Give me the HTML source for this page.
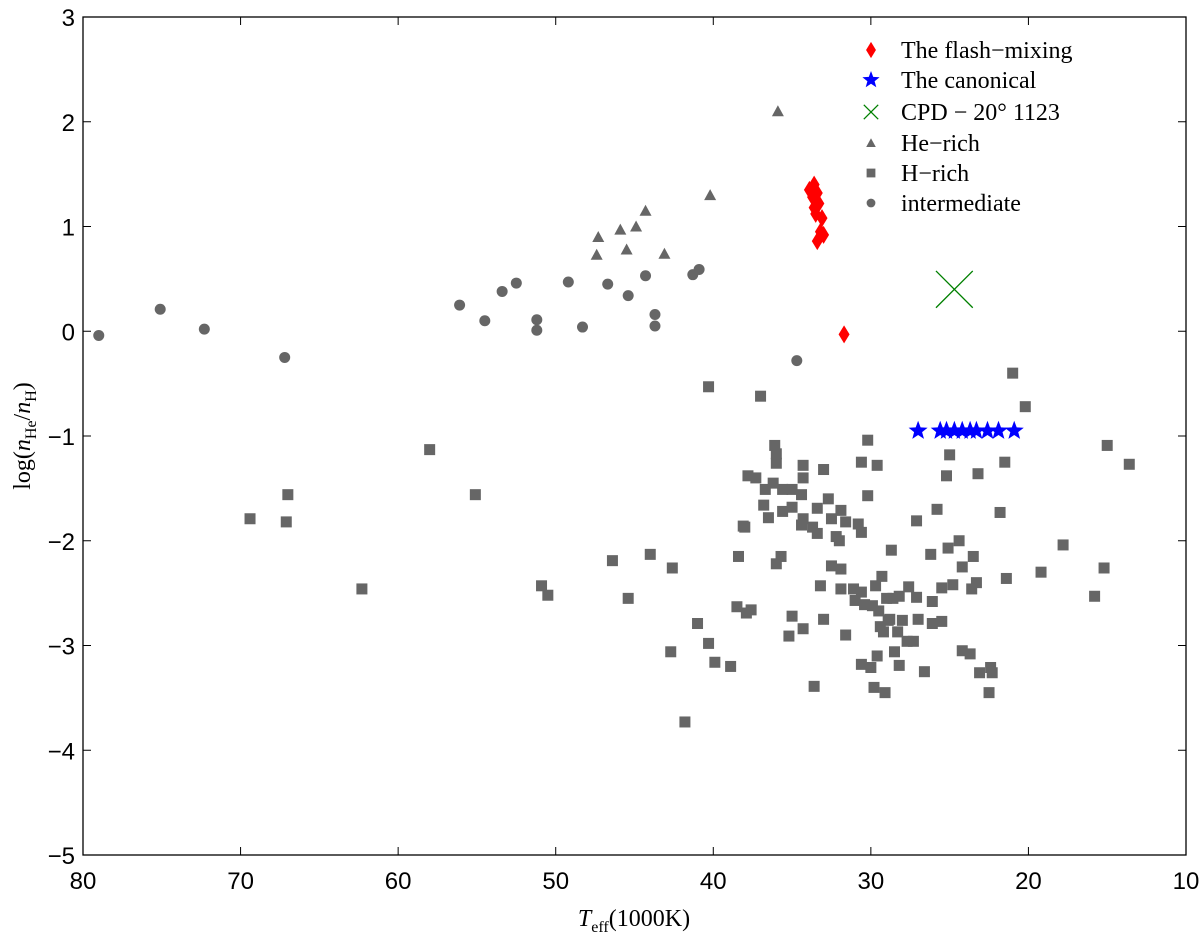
<!DOCTYPE html>
<html><head><meta charset="utf-8"><style>
html,body{margin:0;padding:0;background:#fff}
svg{display:block}
text{fill:#000}
.tick{font-family:"Liberation Sans",sans-serif;font-size:24px}
.ser{font-family:"Liberation Serif",serif}
</style></head><body>
<svg id="chart" width="1200" height="938" viewBox="0 0 1200 938" xmlns="http://www.w3.org/2000/svg">
<g id="marks"></g>
<rect x="83" y="17" width="1103" height="838" fill="none" stroke="#000" stroke-width="1.3"/>
<g id="axes"></g>
<text class="ser" x="634" y="926" font-size="24" text-anchor="middle"><tspan font-style="italic">T</tspan><tspan font-size="16" dy="6">eff</tspan><tspan dy="-6">(1000K)</tspan></text>
<text class="ser" transform="translate(30,436) rotate(-90)" font-size="24" text-anchor="middle">log(<tspan font-style="italic">n</tspan><tspan font-size="16" dy="6">He</tspan><tspan dy="-6">/</tspan><tspan font-style="italic">n</tspan><tspan font-size="16" dy="6">H</tspan><tspan dy="-6">)</tspan></text>
<g id="legend"></g>
</svg>
<script>
const xTicks=[80,70,60,50,40,30,20,10];
const yTicks=[3,2,1,0,-1,-2,-3,-4,-5];
const flashT=[33.9,33.6,33.7,33.4,33.6,33.3,33.5,33.1,33.2,33.0,33.4,31.7];
const flashY=[1.35,1.40,1.28,1.32,1.18,1.22,1.12,1.08,0.95,0.92,0.86,-0.03];
const canonT=[27.0,25.6,25.2,24.7,24.2,23.7,23.3,22.6,21.9,20.9];
const canonY=[-0.95,-0.95,-0.95,-0.95,-0.95,-0.95,-0.95,-0.95,-0.95,-0.95];
const cpdT=[24.7];
const cpdY=[0.40];
const heT=[35.9,40.2,44.3,44.9,45.9,47.3,45.5,47.4,43.1];
const heY=[2.10,1.30,1.15,1.00,0.97,0.90,0.78,0.73,0.74];
const hT=[69.4,67.0,67.1,62.3,58.0,55.1,50.9,50.5,46.4,45.4,44.0,42.6,42.7,41.8,41.0,40.3,40.3,39.9,38.9,38.5,38.4,38.1,37.9,37.6,37.0,30.2,36.1,36.0,36.0,34.3,33.0,30.6,29.6,37.8,37.3,34.3,36.2,36.7,35.6,35.0,34.4,30.2,32.7,36.8,33.4,35.6,35.0,31.9,36.5,34.3,32.5,31.6,34.4,33.7,30.8,33.4,30.6,32.2,32.0,38.0,28.7,35.7,36.0,32.5,31.9,29.3,33.2,31.9,31.1,30.6,29.7,29.0,28.6,31.0,30.4,29.9,29.5,35.0,33.0,34.3,35.2,31.6,28.9,29.4,29.2,29.6,30.6,30.0,33.6,29.8,29.1,21.0,20.2,25.0,21.5,25.2,23.2,15.0,13.6,25.8,21.8,27.1,24.4,26.2,25.1,23.5,24.2,17.8,19.2,15.2,15.8,21.4,23.3,23.6,24.8,25.5,26.1,27.6,28.2,27.1,27.0,26.1,25.5,28.8,28.0,28.3,27.7,27.3,24.2,23.7,28.5,28.2,26.6,22.4,23.1,22.3,22.5];
const hY=[-1.79,-1.56,-1.82,-2.46,-1.13,-1.56,-2.43,-2.52,-2.19,-2.55,-2.13,-2.26,-3.06,-3.73,-2.79,-0.53,-2.98,-3.16,-3.20,-2.63,-2.15,-1.86,-2.69,-2.66,-0.62,-1.04,-1.09,-1.17,-1.26,-1.28,-1.32,-1.25,-1.28,-1.38,-1.40,-1.40,-1.45,-1.51,-1.51,-1.51,-1.56,-1.57,-1.60,-1.66,-1.69,-1.72,-1.68,-1.71,-1.78,-1.79,-1.79,-1.82,-1.85,-1.87,-1.84,-1.93,-1.92,-1.96,-2.00,-1.87,-2.09,-2.15,-2.22,-2.24,-2.27,-2.34,-2.43,-2.46,-2.46,-2.49,-2.43,-2.55,-2.55,-2.57,-2.61,-2.62,-2.67,-2.72,-2.75,-2.84,-2.91,-2.90,-2.76,-2.82,-2.87,-3.10,-3.18,-3.21,-3.39,-3.40,-3.45,-0.40,-0.72,-1.18,-1.25,-1.38,-1.36,-1.09,-1.27,-1.70,-1.73,-1.81,-2.00,-2.13,-2.07,-2.15,-2.25,-2.04,-2.30,-2.26,-2.53,-2.36,-2.40,-2.46,-2.42,-2.45,-2.58,-2.44,-2.53,-2.54,-2.75,-2.79,-2.77,-2.75,-2.76,-2.87,-2.96,-2.96,-3.05,-3.08,-3.06,-3.19,-3.25,-3.21,-3.26,-3.26,-3.45];
const midT=[79.0,75.1,72.3,67.2,56.1,54.5,53.4,52.5,51.2,51.2,49.2,48.3,46.7,45.4,44.3,43.7,43.7,41.3,40.9,34.7];
const midY=[-0.04,0.21,0.02,-0.25,0.25,0.10,0.38,0.46,0.11,0.01,0.47,0.04,0.45,0.34,0.53,0.16,0.05,0.54,0.59,-0.28];
const legendLabels=["The flash\u2212mixing","The canonical","CPD \u2212 20\u00b0 1123","He\u2212rich","H\u2212rich","intermediate"];

const NS="http://www.w3.org/2000/svg";
const X0=83,X1=1186,Y0=17,Y1=855;
function sx(t){return X0+(80-t)/70*(X1-X0);}
function sy(v){return Y0+(3-v)/8*(Y1-Y0);}
function mk(tag,attrs,parent){const e=document.createElementNS(NS,tag);for(const k in attrs)e.setAttribute(k,attrs[k]);parent.appendChild(e);return e;}
const marks=document.getElementById('marks'),axes=document.getElementById('axes'),leg=document.getElementById('legend');
function starPts(cx,cy,r){let p=[];for(let i=0;i<10;i++){const a=-Math.PI/2+i*Math.PI/5;const rr=i%2?r*0.42:r;p.push((cx+rr*Math.cos(a)).toFixed(1)+','+(cy+rr*Math.sin(a)).toFixed(1));}return p.join(' ');}
function drawMarker(type,cx,cy,parent,scale){
  scale=scale||1;let e;
  if(type==='diamond'){e=mk('polygon',{points:`${cx},${cy-9*scale} ${cx+5.5*scale},${cy} ${cx},${cy+9*scale} ${cx-5.5*scale},${cy}`,fill:'#ff0000'},parent);}
  else if(type==='star'){e=mk('polygon',{points:starPts(cx,cy,10*scale),fill:'#0000ff'},parent);}
  else if(type==='x'){const r=16*scale;e=mk('path',{d:`M${cx-r},${cy-r}L${cx+r},${cy+r}M${cx-r},${cy+r}L${cx+r},${cy-r}`,stroke:'#008000','stroke-width':1.3,fill:'none'},parent);}
  else if(type==='tri'){e=mk('polygon',{points:`${cx},${cy-6*scale} ${cx+6*scale},${cy+5*scale} ${cx-6*scale},${cy+5*scale}`,fill:'#666'},parent);}
  else if(type==='sq'){e=mk('rect',{x:cx-5.5*scale,y:cy-5.5*scale,width:11*scale,height:11*scale,fill:'#666'},parent);}
  else {e=mk('circle',{cx:cx,cy:cy,r:5.5*scale,fill:'#666'},parent);}
  return e;
}
function series(T,Y,type,name){for(let i=0;i<T.length;i++){const e=drawMarker(type,sx(T[i]),sy(Y[i]),marks);

}}
series(hT,hY,'sq','h-rich-point');
series(midT,midY,'circ','intermediate-point');
series(heT,heY,'tri','he-rich-point');
series(flashT,flashY,'diamond','flash-mixing-point');
series(canonT,canonY,'star','canonical-point');
for(let i=0;i<cpdT.length;i++){const e=drawMarker('x',sx(cpdT[i]),sy(cpdY[i]),marks,1.15);

}
xTicks.forEach(t=>{const x=sx(t);
const l=mk('path',{d:`M${x},${Y1}v-8M${x},${Y0}v8`,stroke:'#000','stroke-width':1},axes);


const tx=mk('text',{x:x,y:Y1+34,'text-anchor':'middle',class:'tick'},axes);tx.textContent=t;

});
yTicks.forEach(v=>{const y=sy(v);
const l=mk('path',{d:`M${X0},${y}h8M${X1},${y}h-8`,stroke:'#000','stroke-width':1},axes);


const tx=mk('text',{x:X0-8,y:y+9,'text-anchor':'end',class:'tick'},axes);tx.textContent=(v<0?'\u2212'+(-v):v);

});
const types=['diamond','star','x','tri','sq','circ'];
const rowsY=[50,80,112,143,173,203];
types.forEach((ty,i)=>{const g=mk('g',{},leg);


drawMarker(ty,871,rowsY[i],g,ty==='x'?0.45:(ty==='diamond'||ty==='star'?0.9:0.8));
const t=mk('text',{x:901,y:rowsY[i]+8,class:'ser','font-size':24},g);t.textContent=legendLabels[i];});
</script>
</body></html>
